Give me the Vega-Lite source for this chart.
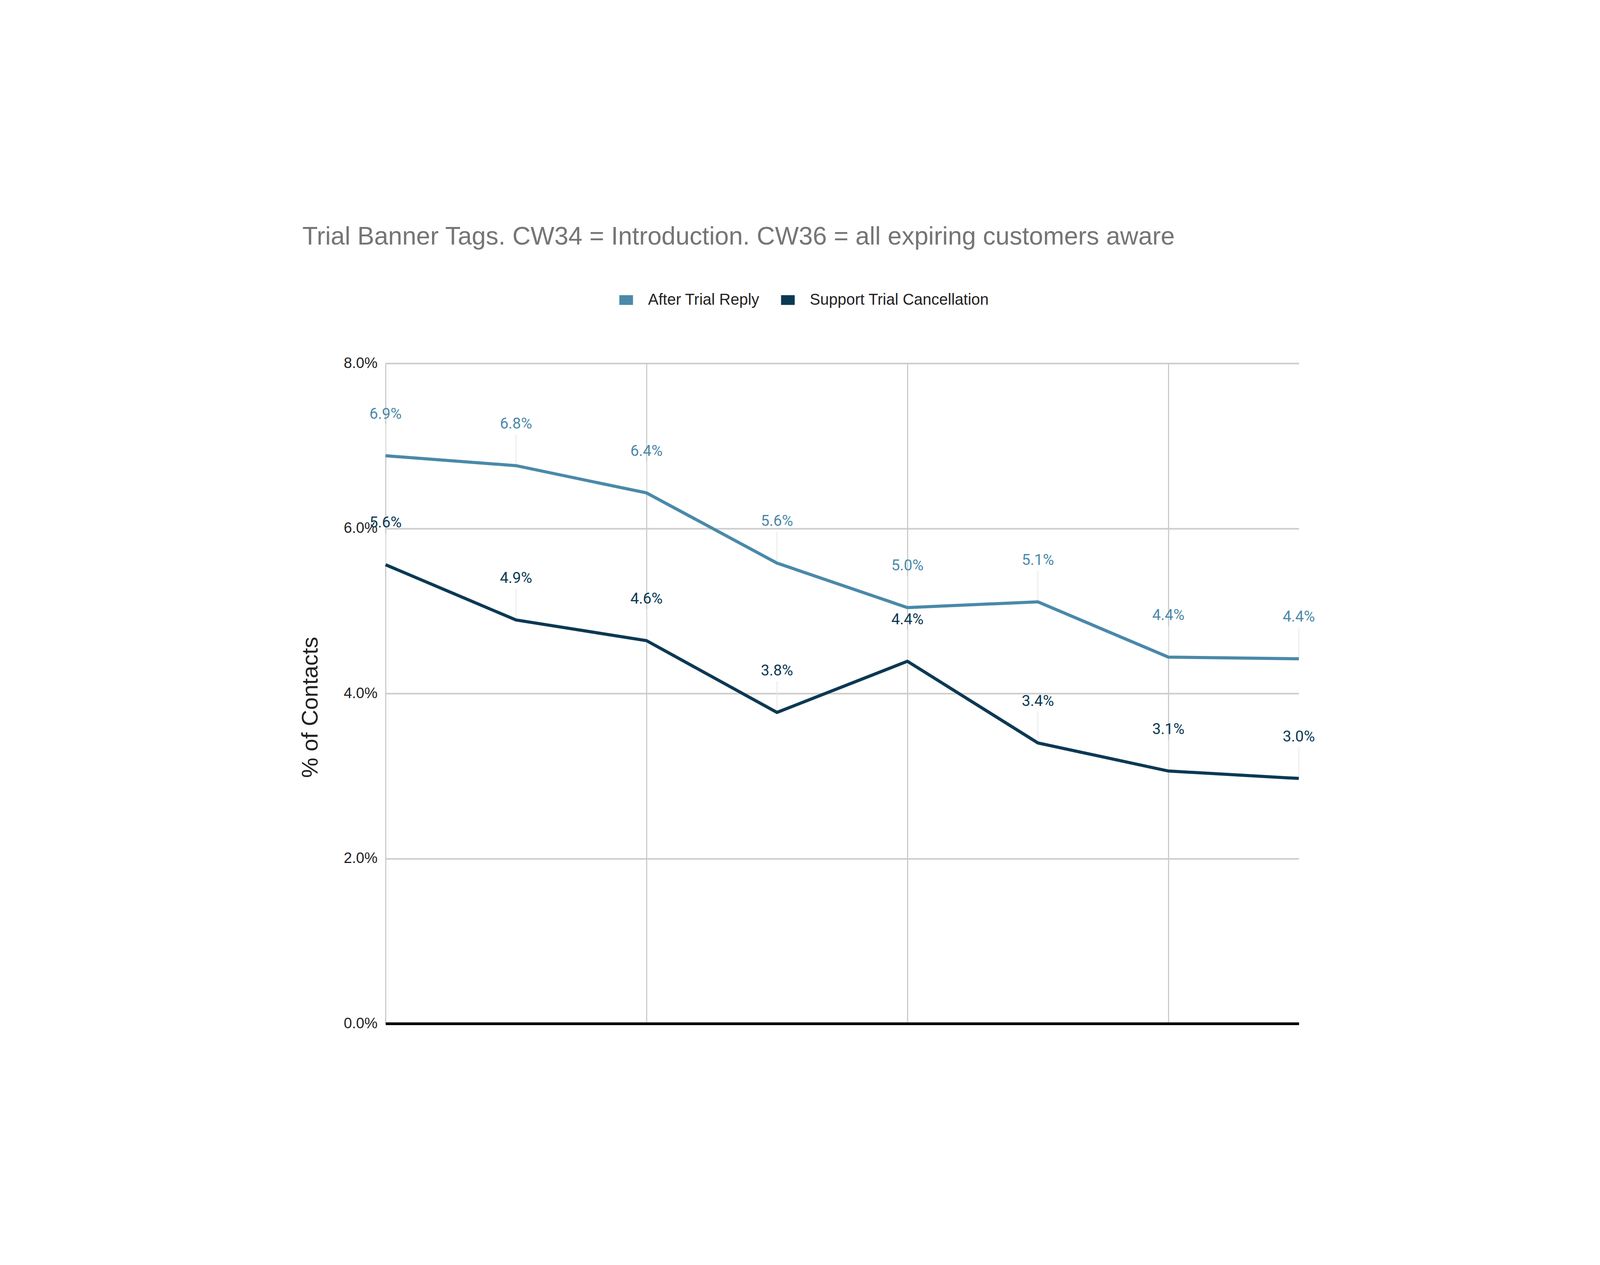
{
  "$schema": "https://vega.github.io/schema/vega-lite/v6.json",
  "description": "Trial banner tags, share of contacts per week.",
  "autosize": {"type": "none"},
  "padding": {"left": 987, "top": 930, "right": 771, "bottom": 618},
  "width": 2338,
  "height": 1690,
  "background": "#ffffff",
  "config": {
    "font": "Liberation Sans",
    "view": {"stroke": null}
  },
  "title": {
    "text": "Trial Banner Tags. CW34 = Introduction. CW36 = all expiring customers aware",
    "anchor": "start",
    "frame": "group",
    "dx": -213,
    "fontSize": 64.5,
    "fontWeight": "normal",
    "color": "#757575",
    "baseline": "alphabetic",
    "offset": 48
  },
  "data": {
    "values": [
      {"week": 0, "series": "After Trial Reply", "value": 0.0688},
      {"week": 1, "series": "After Trial Reply", "value": 0.0676},
      {"week": 2, "series": "After Trial Reply", "value": 0.0643},
      {"week": 3, "series": "After Trial Reply", "value": 0.0558},
      {"week": 4, "series": "After Trial Reply", "value": 0.0504},
      {"week": 5, "series": "After Trial Reply", "value": 0.0511},
      {"week": 6, "series": "After Trial Reply", "value": 0.0444},
      {"week": 7, "series": "After Trial Reply", "value": 0.0442},
      {"week": 0, "series": "Support Trial Cancellation", "value": 0.0556},
      {"week": 1, "series": "Support Trial Cancellation", "value": 0.0489},
      {"week": 2, "series": "Support Trial Cancellation", "value": 0.0464},
      {"week": 3, "series": "Support Trial Cancellation", "value": 0.0377},
      {"week": 4, "series": "Support Trial Cancellation", "value": 0.0439},
      {"week": 5, "series": "Support Trial Cancellation", "value": 0.0340},
      {"week": 6, "series": "Support Trial Cancellation", "value": 0.0306},
      {"week": 7, "series": "Support Trial Cancellation", "value": 0.0297}
    ]
  },
  "encoding": {
    "x": {
      "field": "week",
      "type": "quantitative",
      "scale": {"domain": [0, 7], "nice": false, "zero": false},
      "axis": {
        "title": null,
        "values": [0, 2, 4, 6],
        "labels": false,
        "ticks": false,
        "domain": true,
        "domainColor": "#000000",
        "domainWidth": 7,
        "grid": true,
        "gridColor": "#cccccc",
        "gridWidth": 3
      }
    },
    "y": {
      "field": "value",
      "type": "quantitative",
      "scale": {"domain": [0, 0.08], "nice": false},
      "axis": {
        "title": "% of Contacts",
        "titleFontSize": 58,
        "titleFontWeight": "normal",
        "titleColor": "#222222",
        "titleAngle": -90,
        "titleAlign": "center",
        "titleBaseline": "middle",
        "titleX": -192,
        "titleY": 880,
        "values": [0, 0.02, 0.04, 0.06, 0.08],
        "format": ".1%",
        "labelFontSize": 38,
        "labelColor": "#222222",
        "labelPadding": 21,
        "ticks": false,
        "domain": false,
        "grid": true,
        "gridColor": "#cccccc",
        "gridWidth": 4
      }
    }
  },
  "layer": [
    {
      "mark": {"type": "rule", "color": "#e8e8e8", "strokeWidth": 2, "y2Offset": -80},
      "encoding": {
        "y2": {"field": "value"}
      }
    },
    {
      "mark": {"type": "line", "strokeWidth": 8},
      "encoding": {
        "color": {
          "field": "series",
          "type": "nominal",
          "scale": {
            "domain": ["After Trial Reply", "Support Trial Cancellation"],
            "range": ["#4a89a9", "#0b3954"]
          },
          "legend": {
            "title": null,
            "orient": "none",
            "direction": "horizontal",
            "legendX": 586,
            "legendY": -192,
            "symbolType": "stroke",
            "symbolSize": 1225,
            "symbolStrokeWidth": 25,
            "labelFontSize": 40,
            "labelColor": "#222222",
            "labelOffset": 26,
            "labelLimit": 0,
            "columnPadding": 4,
            "padding": 0
          }
        }
      }
    },
    {
      "mark": {"type": "text", "font": "Roboto", "fontSize": 39, "baseline": "alphabetic", "dy": -95},
      "encoding": {
        "text": {"field": "value", "type": "quantitative", "format": ".1%"},
        "fill": {
          "field": "series",
          "type": "nominal",
          "scale": {
            "domain": ["After Trial Reply", "Support Trial Cancellation"],
            "range": ["#4a89a9", "#0b3954"]
          },
          "legend": null
        }
      }
    }
  ]
}
